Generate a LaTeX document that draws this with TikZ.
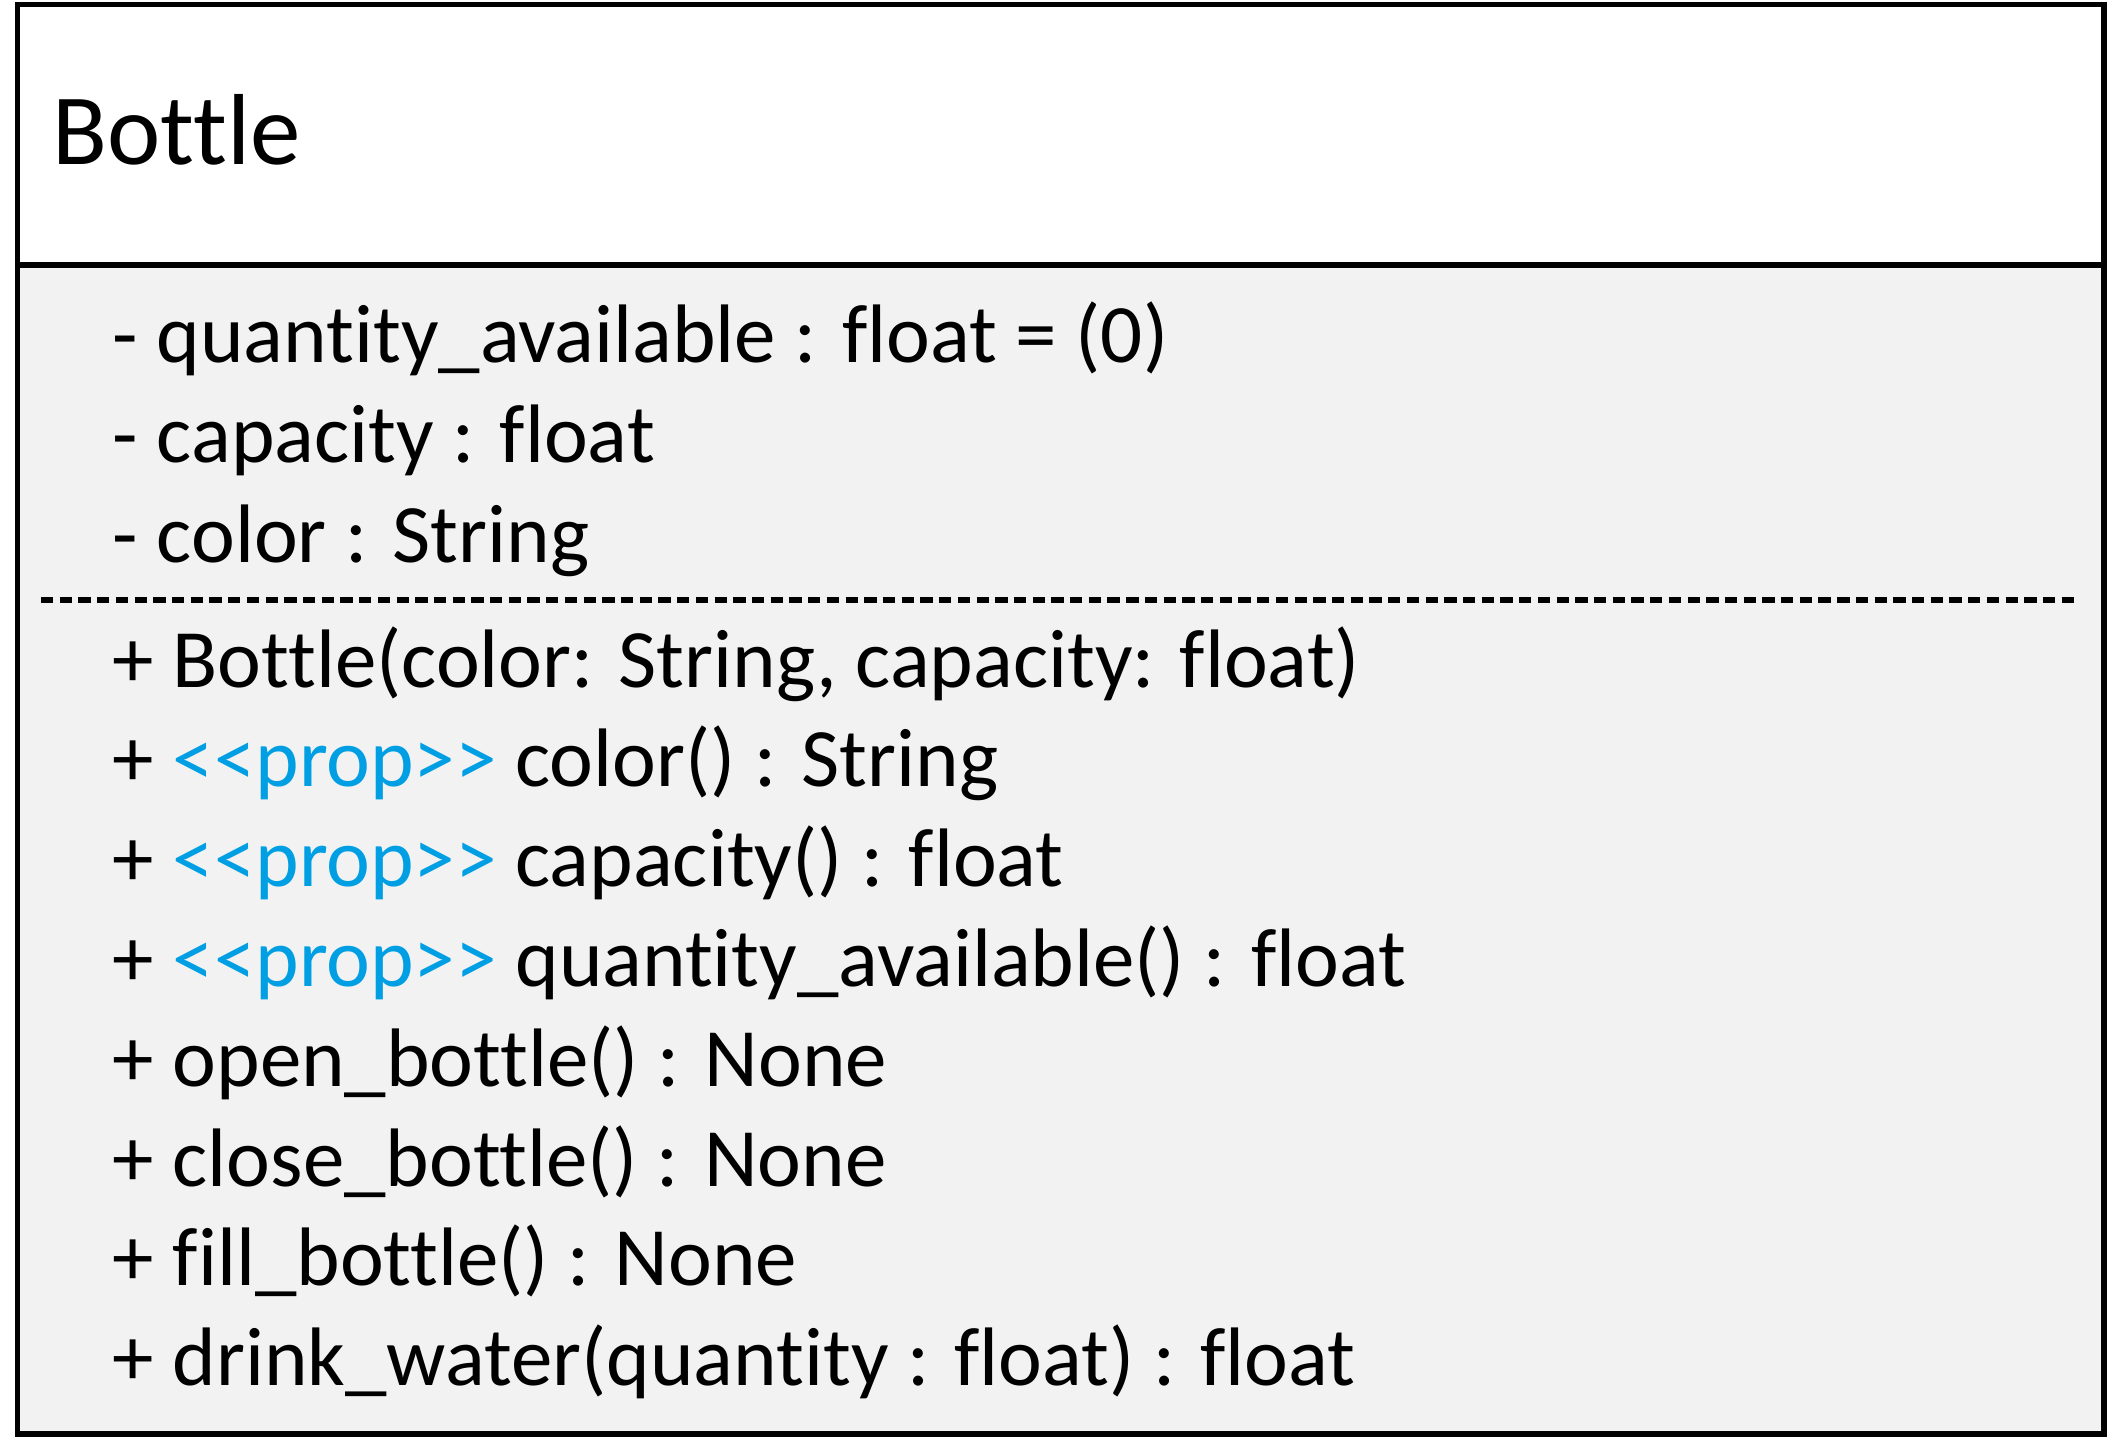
\documentclass[tikz,border=0pt]{standalone}
\usepackage{fontspec}
\newfontfamily\umlfont{Carlito}[Ligatures={NoCommon}]
\usepackage{tikz}
\usetikzlibrary{positioning}
\definecolor{propblue}{RGB}{0,158,226}
\definecolor{bodygray}{RGB}{242,242,242}
\tikzstyle{txt} = [anchor=base west, inner sep=0pt, font=\umlfont\fontsize{23.6}{28}\selectfont]
\tikzstyle{title} = [anchor=base west, inner sep=0pt, font=\umlfont\fontsize{28.7}{34}\selectfont]
\newcommand{\prop}{\textcolor{propblue}{<<prop>>}}

\begin{document}
\begin{tikzpicture}[x=0.01cm, y=-0.01cm]
\useasboundingbox (0,0) rectangle (2108,1450);

\fill[white] (17.5,4.5) rectangle (2104,265);
\fill[bodygray] (17.5,265) rectangle (2104,1434);
\draw[line width=0.055cm] (17.5,4.5) coordinate (nw) rectangle (2104,1434) coordinate (se);
\draw[line width=0.055cm] (17.5,265) coordinate (h_1) -- (2104,265) coordinate (h_2);
\draw[line width=0.06cm, dash pattern=on 0.123cm off 0.064cm] (41,600) coordinate (d_1) -- (2075,600) coordinate (d_2);

\node[title] (name) at (52,164) {Bottle};

\node[txt] (attr_1) at (112,362) {- quantity\_available : float = (0)};
\node[txt] (attr_2) at (112,462) {- capacity : float};
\node[txt] (attr_3) at (112,562) {- color : String};

\node[txt] (meth_1) at (112,687) {+ Bottle(color: String, capacity: float)};
\node[txt] (meth_2) at (112,786.5) {+ \prop{} color() : String};
\node[txt] (meth_3) at (112,886) {+ \prop{} capacity() : float};
\node[txt] (meth_4) at (112,986) {+ \prop{} quantity\_available() : float};
\node[txt] (meth_5) at (112,1086) {+ open\_bottle() : None};
\node[txt] (meth_6) at (112,1186) {+ close\_bottle() : None};
\node[txt] (meth_7) at (112,1285) {+ fill\_bottle() : None};
\node[txt] (meth_8) at (112,1385) {+ drink\_water(quantity : float) : float};

\end{tikzpicture}
\end{document}
